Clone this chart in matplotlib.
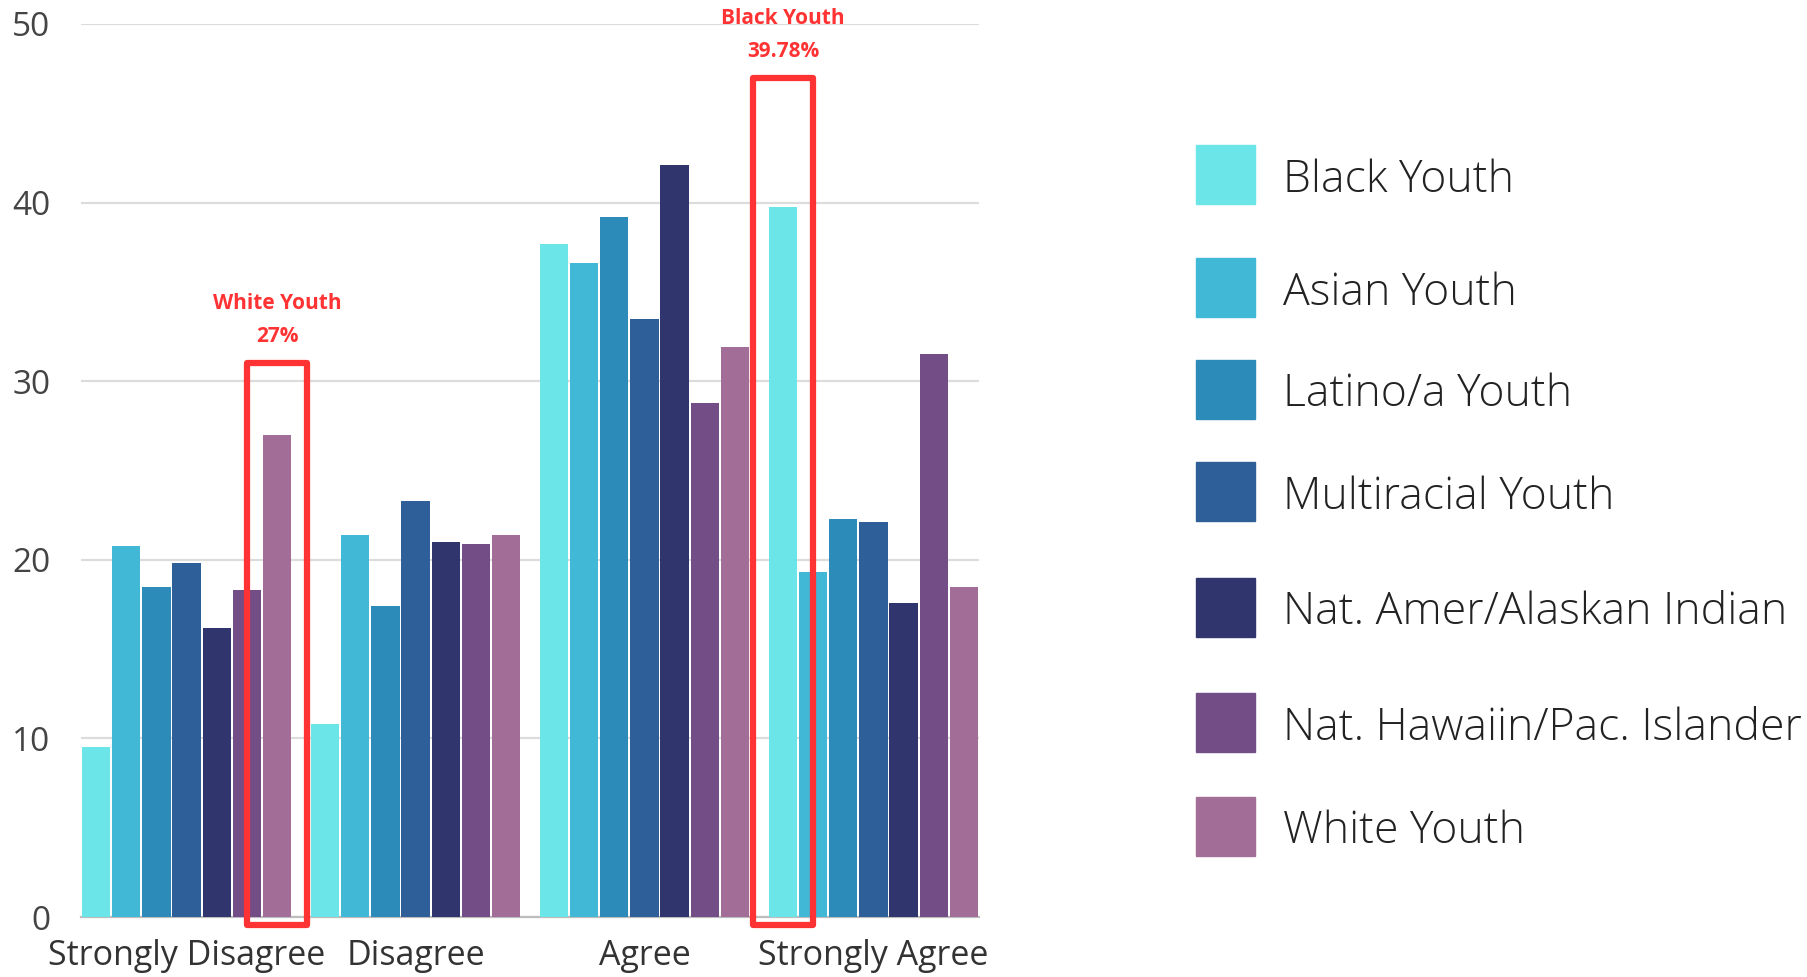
import numpy as np
import matplotlib
matplotlib.use("Agg")
import matplotlib.pyplot as plt
from matplotlib.patches import Rectangle

plt.rcParams['font.family'] = ['Open Sans', 'DejaVu Sans']

# --- data ---
categories = ["Strongly Disagree", "Disagree", "Agree", "Strongly Agree"]
groups = ["Black Youth", "Asian Youth", "Latino/a Youth", "Multiracial Youth",
          "Nat. Amer/Alaskan Indian", "Nat. Hawaiin/Pac. Islander", "White Youth"]
black = [9.5, 10.8, 37.7, 39.78]
asian = [20.8, 21.4, 36.6, 19.3]
latino = [18.5, 17.4, 39.2, 22.3]
multi = [19.8, 23.3, 33.5, 22.1]
natamer = [16.2, 21.0, 42.1, 17.6]
hawaii = [18.3, 20.9, 28.8, 31.5]
white = [27.0, 21.4, 31.9, 18.5]
values = [black, asian, latino, multi, natamer, hawaii, white]
colors = ["#6CE5E8", "#41B8D5", "#2D8BBA", "#2F5F98",
          "#31356E", "#724D86", "#A26D97"]

# highlighted bars: (series index, category index, label)
highlights = [(6, 0, "White Youth\n27%"), (0, 3, "Black Youth\n39.78%")]
box_tops = [31.0, 47.0]

fig = plt.figure(figsize=(18.08, 9.77), dpi=100)
ax = fig.add_axes([81 / 1808, 60 / 977, 898 / 1808, 893 / 977])

n = len(groups)
group_w = 0.922
slot = group_w / n
x = np.arange(len(categories))

for i, (vals, c) in enumerate(zip(values, colors)):
    pos = x - group_w / 2 + slot * (i + 0.5)
    ax.bar(pos, vals, width=slot * 0.94, color=c, zorder=3, linewidth=0)

ax.set_xlim(-group_w / 2, len(categories) - 1 + group_w / 2)
ax.set_ylim(0, 50)
ax.set_yticks([0, 10, 20, 30, 40, 50])
ax.set_xticks(x)
ax.set_xticklabels(categories, fontsize=24.5, color="#333333")
ax.tick_params(axis='y', labelsize=24, labelcolor="#444444", length=0, pad=22)
ax.tick_params(axis='x', length=0, pad=16)
ax.grid(True, axis='y', color="#dcdcdc", linewidth=1.6, zorder=0)
for s in ["top", "right", "left"]:
    ax.spines[s].set_visible(False)
ax.spines["bottom"].set_color("#bdbdbd")
ax.spines["bottom"].set_linewidth(1.6)

# --- red highlight boxes ---
for (si, ci, label), top in zip(highlights, box_tops):
    cx = x[ci] - group_w / 2 + slot * (si + 0.5)
    rect = Rectangle((cx - slot, -0.45), 2 * slot, top + 0.45, fill=False,
                     edgecolor="#FF3333", linewidth=4.5, joinstyle='round',
                     clip_on=False, zorder=6)
    ax.add_patch(rect)
    ax.text(cx, top + 0.9, label, ha='center', va='bottom', color="#FF3333",
            fontsize=15, fontweight='bold', linespacing=1.75, clip_on=False)

# --- legend drawn by hand ---
legend_y = [174.7, 287.7, 389.1, 491.8, 607.1, 722.4, 826.1]
for g, c, yy in zip(groups, colors, legend_y):
    yf = 1 - yy / 977
    fig.add_artist(Rectangle((1196 / 1808, yf - 29.5 / 977), 59 / 1808, 59 / 977,
                             transform=fig.transFigure, color=c))
    fig.text(1283 / 1808, yf - 6 / 977, g, fontsize=32, fontweight='light',
             color="#222222", va='center', ha='left')

plt.savefig("out.png", dpi=100)
